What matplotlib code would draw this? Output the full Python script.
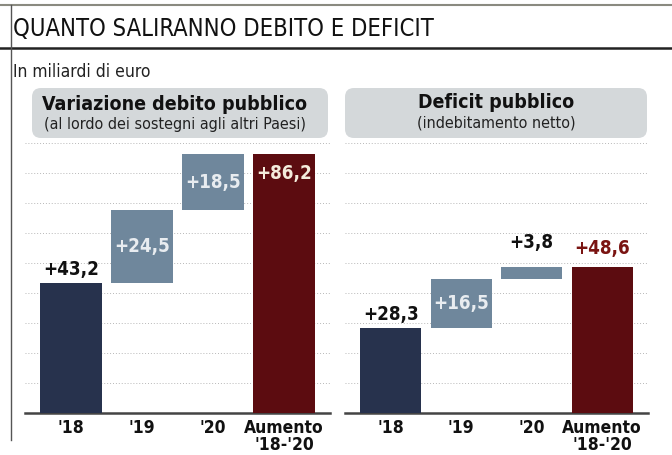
import matplotlib
matplotlib.use('Agg')
import matplotlib.pyplot as plt
from matplotlib.patches import FancyBboxPatch
import numpy as np

# data (miliardi di euro)
categories = ["'18", "'19", "'20", "Aumento\n'18-'20"]
debito = [43.2, 24.5, 18.5]
debito_totale = 86.2
deficit = [28.3, 16.5, 3.8]
deficit_totale = 48.6

plt.rcParams['font.family'] = ['DejaVu Sans']
plt.rcParams['font.stretch'] = 'condensed'

W, H = 672, 455
fig = plt.figure(figsize=(W / 100, H / 100), dpi=100)
fig.patch.set_facecolor('white')

# overlay in pixel coordinates for frame, title, header boxes
bg = fig.add_axes([0, 0, 1, 1])
bg.set_xlim(0, W)
bg.set_ylim(H, 0)
bg.axis('off')

bg.plot([0, W], [5, 5], color='#8a8a80', lw=1.5)
bg.plot([0, W], [48, 48], color='#222222', lw=1.8)
bg.plot([11, 11], [5, 440], color='#555555', lw=1.0)

bg.text(13, 29, 'QUANTO SALIRANNO DEBITO E DEFICIT', fontsize=17, color='#111111',
        va='center', ha='left')
bg.text(13, 72, 'In miliardi di euro', fontsize=12.5, color='#222222', va='center')

for x0, x1 in [(32, 328), (345, 647)]:
    bg.add_patch(FancyBboxPatch((x0, 88), x1 - x0, 50,
                                boxstyle='round,pad=0,rounding_size=9',
                                fc='#d4d8da', ec='none'))

bg.text(175, 104, 'Variazione debito pubblico', fontsize=14, fontweight='bold',
        color='#111111', ha='center', va='center')
bg.text(175, 124, '(al lordo dei sostegni agli altri Paesi)', fontsize=11.5,
        color='#222222', ha='center', va='center')
bg.text(496, 103, 'Deficit pubblico', fontsize=14, fontweight='bold',
        color='#111111', ha='center', va='center')
bg.text(496, 123, '(indebitamento netto)', fontsize=11.5,
        color='#222222', ha='center', va='center')

navy = '#27324d'
steel = '#6f879c'
red = '#5c0c10'


def waterfall(ax, steps, total, label_styles):
    bottoms = np.concatenate([[0], np.cumsum(steps)[:-1], [0]])
    heights = list(steps) + [total]
    colors = [navy, steel, steel, red]
    x = np.arange(len(categories))
    ax.bar(x, heights, bottom=bottoms, width=0.87, color=colors, zorder=3)
    ax.set_xlim(-0.65, 3.65)
    ax.set_ylim(0, 91)
    ax.set_yticks(np.arange(10, 91, 10))
    ax.yaxis.grid(True, linestyle=(0, (1, 2)), color='#b8b8b8', lw=0.7, zorder=0)
    ax.set_axisbelow(True)
    ax.tick_params(axis='y', left=False, labelleft=False)
    ax.tick_params(axis='x', length=0, pad=4)
    ax.set_xticks(x)
    ax.set_xticklabels(categories, fontsize=12.5, fontweight='bold', color='#111111',
                       linespacing=0.95, va='top')
    for s in ['top', 'right', 'left']:
        ax.spines[s].set_visible(False)
    ax.spines['bottom'].set_color('#444444')
    ax.spines['bottom'].set_linewidth(1.8)
    ax.patch.set_alpha(0)
    for i, (b, h) in enumerate(zip(bottoms, heights)):
        txt = '+' + f'{h:.1f}'.replace('.', ',')
        where, color, gap = label_styles[i]
        if where == 'above':
            y, va = b + h + gap, 'bottom'
        elif where == 'top':
            y, va = b + h - 6.3, 'center'
        else:
            y, va = b + h / 2, 'center'
        ax.text(i, y, txt, ha='center', va=va, fontsize=13.5, fontweight='bold',
                color=color, zorder=4)


ax1 = fig.add_axes([25 / W, 42 / H, 305 / W, 273 / H])
waterfall(ax1, debito, debito_totale,
          [('above', '#111111', 1.5), ('mid', '#e8ecf0', 0), ('mid', '#e8ecf0', 0),
           ('top', '#f4ecdc', 0)])

ax2 = fig.add_axes([345 / W, 42 / H, 303 / W, 273 / H])
waterfall(ax2, deficit, deficit_totale,
          [('above', '#111111', 1.5), ('mid', '#e8ecf0', 0), ('above', '#111111', 5),
           ('above', '#7a1412', 3)])

fig.savefig('out.png', dpi=100)
